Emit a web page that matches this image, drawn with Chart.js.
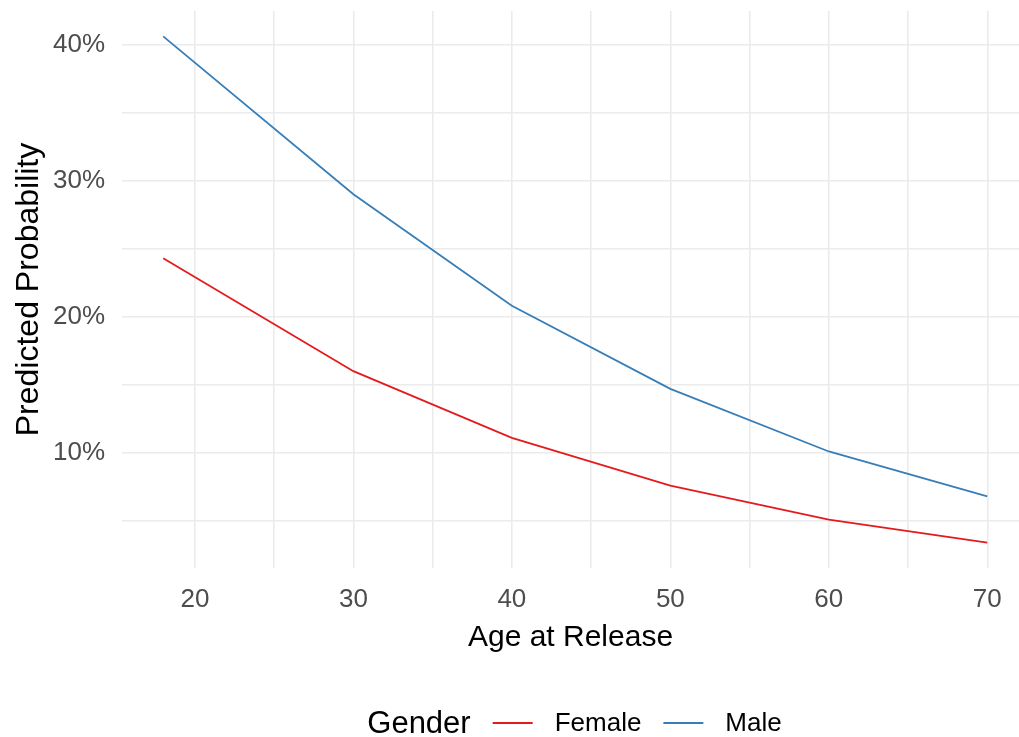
<!DOCTYPE html>
<html>
<head>
<meta charset="utf-8">
<script src="https://cdn.jsdelivr.net/npm/chart.js@4.4.1/dist/chart.umd.min.js"></script>
<style>
  html, body { margin: 0; padding: 0; background: #fff; }
  #wrap { width: 1019px; height: 737px; }
</style>
</head>
<body>
<div id="wrap"><canvas id="chart" width="1019" height="737"></canvas></div>
<script>
// values
const ages = [18, 30, 40, 50, 60, 70];
const femaleProb = [24.3, 16.0, 11.1, 7.6, 5.1, 3.4];
const maleProb = [40.6, 29.0, 20.8, 14.7, 10.1, 6.8];
const genders = ["Female", "Male"];
const xTicks = [20, 30, 40, 50, 60, 70];
const yTicks = [10, 20, 30, 40];

const FONT = "'Liberation Sans', Arial, sans-serif";
const GRID = "#ebebeb";

const toPoints = (xs, ys) => xs.map((x, i) => ({ x: x, y: ys[i] }));

// ggplot style legend under the panel: "Gender  — Female  — Male"
const bottomLegend = {
  id: "bottomLegend",
  afterDraw(chart) {
    const { ctx, chartArea } = chart;
    const y = 724;
    ctx.save();
    ctx.textBaseline = "middle";
    ctx.fillStyle = "#000";
    ctx.font = `31px ${FONT}`;
    const titleW = ctx.measureText("Gender").width;
    ctx.font = `26px ${FONT}`;
    const items = chart.data.datasets.map((ds) => ({
      label: ds.label,
      color: ds.borderColor,
      w: ctx.measureText(ds.label).width,
    }));
    const keyW = 40, gap = 22;
    let total = titleW;
    items.forEach((it) => (total += gap + keyW + gap + it.w));
    let x = (chartArea.left + chartArea.right) / 2 - total / 2 + 4;

    ctx.font = `31px ${FONT}`;
    ctx.fillText("Gender", x, y);
    x += titleW;
    ctx.font = `26px ${FONT}`;
    items.forEach((it) => {
      x += gap;
      ctx.strokeStyle = it.color;
      ctx.lineWidth = 2;
      ctx.beginPath();
      ctx.moveTo(x, y - 1);
      ctx.lineTo(x + keyW, y - 1);
      ctx.stroke();
      x += keyW + gap;
      ctx.fillStyle = "#000";
      ctx.fillText(it.label, x, y);
      x += it.w;
    });
    ctx.restore();
  },
};

new Chart(document.getElementById("chart"), {
  type: "line",
  data: {
    datasets: [
      {
        label: genders[0],
        data: toPoints(ages, femaleProb),
        borderColor: "#e41a1c",
        borderWidth: 1.8,
        pointRadius: 0,
        tension: 0,
        fill: false,
      },
      {
        label: genders[1],
        data: toPoints(ages, maleProb),
        borderColor: "#377eb8",
        borderWidth: 1.8,
        pointRadius: 0,
        tension: 0,
        fill: false,
      },
    ],
  },
  options: {
    responsive: false,
    animation: false,
    layout: { padding: { top: 11, right: 0, bottom: 84, left: 0 } },
    plugins: {
      legend: { display: false },
      tooltip: { enabled: false },
    },
    scales: {
      x: {
        type: "linear",
        min: 15.4,
        max: 72.0,
        border: { display: false },
        grid: { color: GRID, lineWidth: 1.6, drawTicks: false },
        ticks: {
          stepSize: 5,
          autoSkip: false,
          includeBounds: false,
          maxRotation: 0,
          padding: 18.5,
          color: "#4d4d4d",
          font: { family: FONT, size: 26, lineHeight: 1.0 },
          callback: (v) => (xTicks.includes(v) ? String(v) : ""),
        },
        title: {
          display: true,
          text: "Age at Release",
          color: "#000",
          font: { family: FONT, size: 30, lineHeight: 1.0 },
          padding: { top: -8, bottom: 0 },
        },
        afterFit(scale) {
          scale.paddingLeft = 0;
          scale.paddingRight = 0;
        },
      },
      y: {
        type: "linear",
        min: 1.54,
        max: 42.46,
        border: { display: false },
        grid: { color: GRID, lineWidth: 1.6, drawTicks: false },
        ticks: {
          stepSize: 5,
          autoSkip: false,
          includeBounds: false,
          padding: 17,
          color: "#4d4d4d",
          font: { family: FONT, size: 26, lineHeight: 1.0 },
          callback: (v) => (yTicks.includes(v) ? v + "%" : ""),
        },
        title: {
          display: true,
          text: "Predicted Probability",
          color: "#000",
          font: { family: FONT, size: 32, lineHeight: 1.0 },
          padding: { top: 13, bottom: 0 },
        },
        afterFit(scale) {
          scale.width = 122;
          scale.paddingTop = 0;
          scale.paddingBottom = 0;
        },
      },
    },
  },
  plugins: [bottomLegend],
});
</script>
</body>
</html>
